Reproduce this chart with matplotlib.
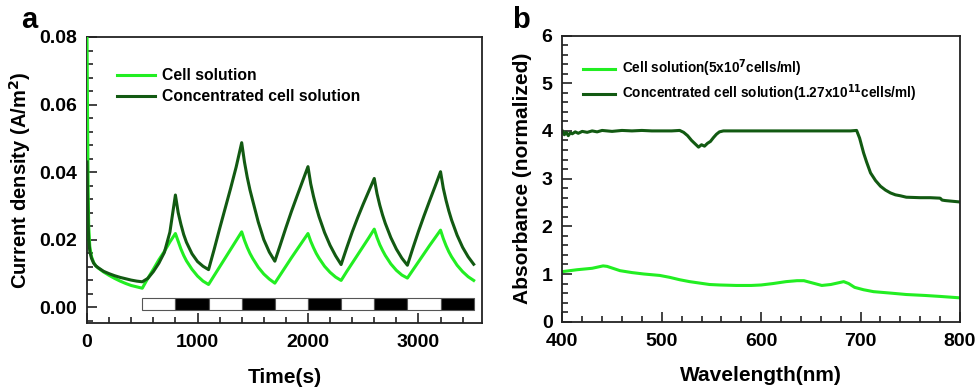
import matplotlib
matplotlib.use("Agg")
import matplotlib.pyplot as plt
from matplotlib.ticker import MultipleLocator

plt.rcParams['font.family'] = ['Liberation Sans', 'DejaVu Sans']
plt.rcParams['font.weight'] = 'bold'
plt.rcParams['axes.labelweight'] = 'bold'

# ---------------- Panel a: photocurrent vs time ----------------
time_s = [0, 5, 10, 15, 25, 40, 60, 80, 100, 150, 200, 250, 300, 350, 400, 450, 500,
          550, 600, 650, 700, 750, 800,
          825, 850, 875, 900, 950, 1000, 1050, 1100,
          1150, 1200, 1250, 1300, 1350, 1400,
          1425, 1450, 1475, 1500, 1550, 1600, 1650, 1700,
          1750, 1800, 1850, 1900, 1950, 2000,
          2025, 2050, 2075, 2100, 2150, 2200, 2250, 2300,
          2350, 2400, 2450, 2500, 2550, 2600,
          2625, 2650, 2675, 2700, 2750, 2800, 2850, 2900,
          2950, 3000, 3050, 3100, 3150, 3200,
          3225, 3250, 3275, 3300, 3350, 3400, 3450, 3500]

cell_current = [0.080, 0.055, 0.035, 0.024, 0.018, 0.0150, 0.0132, 0.0122, 0.0116, 0.0104,
                0.0094, 0.0085, 0.0077, 0.0070, 0.0064, 0.0060, 0.0056,
                0.0085, 0.0112, 0.0140, 0.0165, 0.0193, 0.0218,
                0.0195, 0.0172, 0.0153, 0.0137, 0.0112, 0.0092, 0.0077, 0.0067,
                0.0093, 0.0119, 0.0145, 0.0171, 0.0197, 0.0223,
                0.0198, 0.0177, 0.0159, 0.0144, 0.0118, 0.0098, 0.0083, 0.0071,
                0.0096, 0.0121, 0.0146, 0.0170, 0.0194, 0.0218,
                0.0195, 0.0176, 0.0159, 0.0145, 0.0121, 0.0103, 0.0089, 0.0079,
                0.0105, 0.0130, 0.0155, 0.0180, 0.0205, 0.0231,
                0.0206, 0.0185, 0.0168, 0.0153, 0.0128, 0.0109, 0.0095, 0.0086,
                0.0110, 0.0134, 0.0158, 0.0182, 0.0205, 0.0228,
                0.0203, 0.0182, 0.0164, 0.0149, 0.0124, 0.0105, 0.0090, 0.0079]

conc_current = [0.043, 0.033, 0.025, 0.020, 0.0165, 0.0145, 0.0130, 0.0122, 0.0117, 0.0106,
                0.0099, 0.0093, 0.0088, 0.0084, 0.0080, 0.0077, 0.0075,
                0.0085, 0.0105, 0.0130, 0.0162, 0.0222, 0.0332,
                0.0280, 0.0245, 0.0215, 0.0192, 0.0158, 0.0135, 0.0121, 0.0111,
                0.0170, 0.0232, 0.0292, 0.0352, 0.0415, 0.0487,
                0.0430, 0.0385, 0.0347, 0.0315, 0.0252, 0.0200, 0.0163, 0.0136,
                0.0185, 0.0235, 0.0283, 0.0328, 0.0372, 0.0416,
                0.0365, 0.0328, 0.0296, 0.0268, 0.0221, 0.0183, 0.0152, 0.0126,
                0.0175, 0.0222, 0.0265, 0.0305, 0.0343, 0.0381,
                0.0336, 0.0302, 0.0273, 0.0248, 0.0206, 0.0172, 0.0145, 0.0124,
                0.0175, 0.0224, 0.0270, 0.0314, 0.0357, 0.0401,
                0.0352, 0.0316, 0.0285, 0.0258, 0.0213, 0.0177, 0.0149, 0.0127]

# illumination schedule: light (white) / dark (black) periods
period_edges = [500, 800, 1100, 1400, 1700, 2000, 2300, 2600, 2900, 3200, 3500]
period_state = ['light', 'dark', 'light', 'dark', 'light', 'dark', 'light', 'dark', 'light', 'dark']

# ---------------- Panel b: absorbance spectra ----------------
wl_cell = [400, 415, 430, 441, 445, 458, 470, 482, 498, 508, 518, 528, 538, 548, 558, 575,
           590, 600, 612, 625, 636, 643, 652, 661, 670, 683, 688, 694, 703, 713, 730, 746,
           765, 780, 800]
abs_cell = [1.05, 1.09, 1.12, 1.17, 1.16, 1.07, 1.03, 1.00, 0.97, 0.93, 0.88, 0.84, 0.81,
            0.78, 0.77, 0.76, 0.76, 0.77, 0.80, 0.84, 0.86, 0.86, 0.81, 0.76, 0.78, 0.84,
            0.80, 0.72, 0.67, 0.63, 0.60, 0.57, 0.55, 0.53, 0.50]

wl_conc = [400, 402, 404, 406, 408, 410, 413, 416, 420, 425, 430, 435, 440, 450, 460, 470,
           480, 490, 500, 510, 518, 522, 526, 530, 533, 535, 537, 540, 543, 546, 549, 552,
           555, 558, 562, 570, 600, 650, 690, 696, 699, 703, 706, 710, 715, 720, 725, 730,
           735, 740, 746, 760, 770, 780, 782, 785, 790, 795, 800]
abs_conc = [4.00, 3.92, 3.97, 3.90, 3.96, 3.94, 3.98, 3.95, 3.99, 3.97, 4.00, 3.98, 4.01,
            3.99, 4.01, 4.00, 4.01, 4.00, 4.00, 4.00, 4.01, 3.97, 3.90, 3.80, 3.74, 3.70,
            3.66, 3.71, 3.68, 3.74, 3.78, 3.86, 3.93, 3.98, 4.00, 4.00, 4.00, 4.00, 4.00,
            4.01, 3.85, 3.54, 3.35, 3.12, 2.96, 2.84, 2.76, 2.70, 2.66, 2.64, 2.61, 2.60,
            2.60, 2.59, 2.55, 2.54, 2.53, 2.52, 2.51]

LIGHT_GREEN = '#22ee22'
DARK_GREEN = '#125a12'

fig = plt.figure(figsize=(9.79, 3.89), dpi=100)
ax_a = fig.add_axes([0.0889, 0.1697, 0.4034, 0.7352])
ax_b = fig.add_axes([0.5744, 0.1730, 0.4062, 0.7357])


def style_axes(ax):
    for sp in ax.spines.values():
        sp.set_linewidth(1.3)
        sp.set_color('#222222')
    ax.tick_params(which='both', direction='in', top=False, right=False,
                   width=1.2, colors='#222222', labelsize=14, labelcolor='black')
    ax.tick_params(which='major', length=7)
    ax.tick_params(which='minor', length=4)
    ax.tick_params(axis='x', pad=8)
    ax.tick_params(axis='y', pad=7)
    for lab in ax.get_xticklabels() + ax.get_yticklabels():
        lab.set_fontweight('bold')


# panel a
ax_a.plot(time_s, cell_current, color=LIGHT_GREEN, lw=2.2, label='Cell solution', zorder=3)
ax_a.plot(time_s, conc_current, color=DARK_GREEN, lw=2.2,
          label='Concentrated cell solution', zorder=3)
for i, state in enumerate(period_state):
    ax_a.bar(period_edges[i], 0.0036, width=period_edges[i + 1] - period_edges[i],
             bottom=-0.0009, align='edge',
             color='white' if state == 'light' else 'black',
             edgecolor='#555555', linewidth=0.8, zorder=2)
ax_a.set_xlim(0, 3575)
ax_a.set_ylim(-0.0047, 0.08)
ax_a.set_xticks([0, 1000, 2000, 3000])
ax_a.xaxis.set_minor_locator(MultipleLocator(200))
ax_a.set_yticks([0.00, 0.02, 0.04, 0.06, 0.08])
ax_a.set_yticklabels(['0.00', '0.02', '0.04', '0.06', '0.08'])
ax_a.yaxis.set_minor_locator(MultipleLocator(0.004))
style_axes(ax_a)
ax_a.set_xlabel('Time(s)', fontsize=15, fontweight='bold', labelpad=12)
ax_a.set_ylabel('Current density (A/m$^\\mathbf{2}$)', fontsize=14.5, fontweight='bold')
ax_a.yaxis.set_label_coords(-0.137, 0.5)
ax_a.legend(loc='upper left', bbox_to_anchor=(0.04, 0.94), frameon=False,
            handlelength=2.4, handletextpad=0.5, labelspacing=0.38,
            prop={'weight': 'bold', 'size': 11.3})

# panel b
ax_b.plot(wl_cell, abs_cell, color=LIGHT_GREEN, lw=2.2,
          label='Cell solution(5x10$^\\mathbf{7}$cells/ml)')
ax_b.plot(wl_conc, abs_conc, color=DARK_GREEN, lw=2.2,
          label='Concentrated cell solution(1.27x10$^\\mathbf{11}$cells/ml)')
ax_b.set_xlim(400, 800)
ax_b.set_ylim(0, 6)
ax_b.set_xticks([400, 500, 600, 700, 800])
ax_b.xaxis.set_minor_locator(MultipleLocator(20))
ax_b.set_yticks([0, 1, 2, 3, 4, 5, 6])
ax_b.yaxis.set_minor_locator(MultipleLocator(0.2))
style_axes(ax_b)
ax_b.set_xlabel('Wavelength(nm)', fontsize=15, fontweight='bold', labelpad=12)
ax_b.set_ylabel('Absorbance (normalized)', fontsize=15, fontweight='bold')
ax_b.yaxis.set_label_coords(-0.076, 0.5)
ax_b.legend(loc='upper left', bbox_to_anchor=(0.02, 0.965), frameon=False,
            handlelength=2.4, handletextpad=0.5, labelspacing=0.25,
            prop={'weight': 'bold', 'size': 9.8})

fig.text(0.022, 0.985, 'a', fontsize=21, fontweight='bold', va='top', ha='left')
fig.text(0.523, 0.985, 'b', fontsize=21, fontweight='bold', va='top', ha='left')

fig.savefig('out.png', dpi=100)
